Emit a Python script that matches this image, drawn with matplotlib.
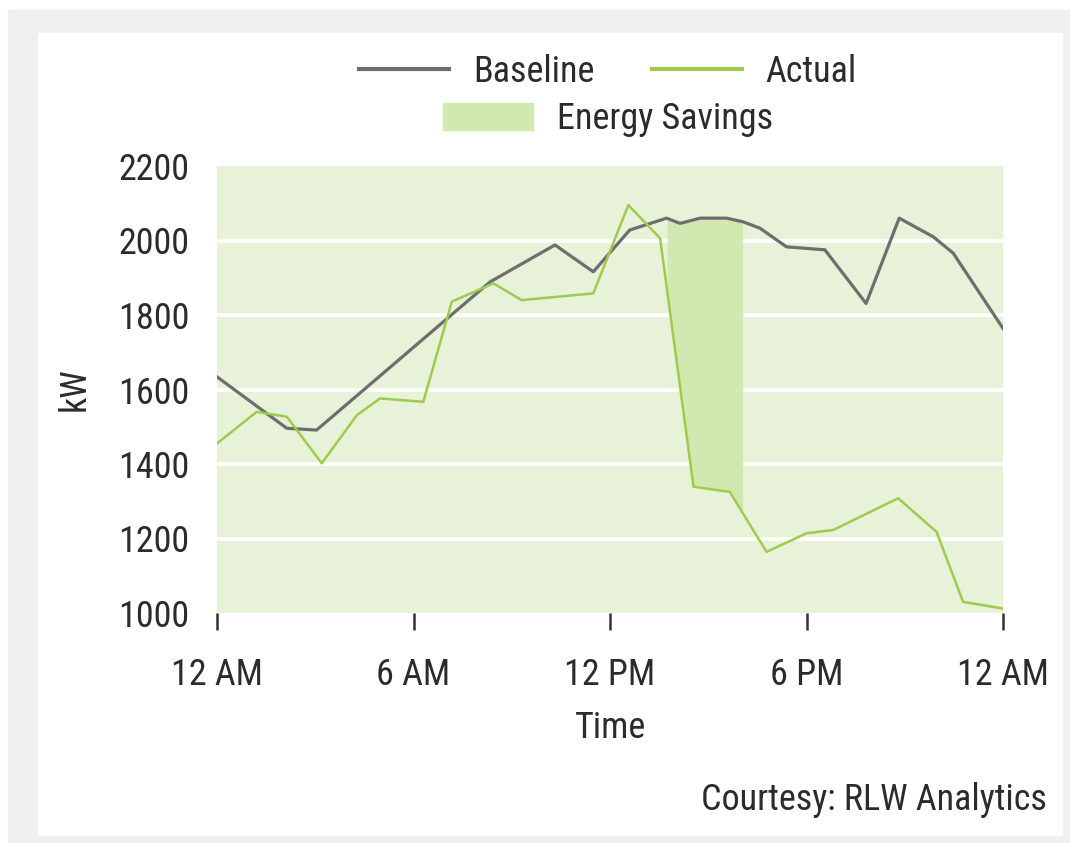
import matplotlib
matplotlib.use("Agg")
import matplotlib.pyplot as plt
from matplotlib.patches import Rectangle, Patch
from matplotlib.lines import Line2D
import numpy as np

plt.rcParams['font.family'] = ['Roboto Condensed', 'Barlow Condensed', 'Sofia Sans Condensed', 'DejaVu Sans']

# hours since midnight, kW
base_hours = [0, 2.13, 3.04, 8.34, 10.32, 11.49, 12.6, 13.73, 14.14, 14.75, 15.56,
              16.07, 16.58, 17.39, 18.56, 19.82, 20.83, 21.87, 22.48, 24]
base_kw = [1634, 1496, 1491, 1889, 1988, 1916, 2028, 2060, 2046, 2060, 2060,
           2050, 2033, 1983, 1975, 1831, 2060, 2010, 1966, 1764]

act_hours = [0, 1.21, 2.13, 3.2, 4.27, 4.98, 6.3, 7.17, 8.44, 9.3, 11.49, 12.56,
             13.53, 14.55, 15.66, 16.78, 18.0, 18.82, 20.8, 21.97, 22.78, 24]
act_kw = [1455, 1540, 1527, 1402, 1531, 1576, 1567, 1836, 1885, 1840, 1858, 2095,
          2006, 1339, 1325, 1164, 1214, 1223, 1308, 1218, 1030, 1012]

event_start, event_end = 13.74, 16.05

xtick_pos = [0, 6, 12, 18, 24]
xtick_lab = ['12 AM', '6 AM', '12 PM', '6 PM', '12 AM']
ytick_pos = [1000, 1200, 1400, 1600, 1800, 2000, 2200]

txt = '#2b2b2b'
gray = '#6e6e6e'
green = '#9dcc4c'
bg = '#e8f2d9'
fillc = '#d1e8b1'
fs = 26

fig = plt.figure(figsize=(10.7, 8.43), dpi=100)
fig.patches.append(Rectangle((8/1070, 0), 1 - 8/1070, 1 - 10/843, transform=fig.transFigure,
                             color='#efefef', zorder=-10))
fig.patches.append(Rectangle((38/1070, 8/843), (1062-38)/1070, (835-33)/843,
                             transform=fig.transFigure, color='white', zorder=-9))

ax = fig.add_axes([217/1070, 1 - 613/843, 786/1070, 447/843])
ax.set_facecolor(bg)
ax.set_xlim(0, 24)
ax.set_ylim(1000, 2200)

for y in ytick_pos[1:-1]:
    ax.axhline(y, color='white', lw=2.8, zorder=1)

xs = np.linspace(event_start, event_end, 200)
ax.fill_between(xs, np.interp(xs, act_hours, act_kw), np.interp(xs, base_hours, base_kw),
                color=fillc, lw=0, zorder=2)

ax.plot(base_hours, base_kw, color=gray, lw=2.3, zorder=3)
ax.plot(act_hours, act_kw, color=green, lw=1.8, zorder=4)

for s in ax.spines.values():
    s.set_visible(False)
ax.set_xticks(xtick_pos)
ax.set_xticklabels(xtick_lab)
ax.set_yticks(ytick_pos)
ax.tick_params(axis='x', direction='out', length=12, width=1.8, color='#333333',
               labelsize=fs, labelcolor=txt, pad=20)
ax.tick_params(axis='y', length=0, labelsize=fs, labelcolor=txt, pad=20)
ax.set_xlabel('Time', fontsize=fs, color=txt, labelpad=12)
ax.set_ylabel('kW', fontsize=fs, color=txt, labelpad=18)

h1 = [Line2D([], [], color=gray, lw=3), Line2D([], [], color=green, lw=3)]
fig.legend(h1, ['Baseline', 'Actual'], loc='center', bbox_to_anchor=(608/1070, 1 - 72/843),
           ncol=2, frameon=False, fontsize=fs, handlelength=2.5, handletextpad=0.65,
           columnspacing=1.6, labelcolor=txt)
fig.legend([Patch(color=fillc)], ['Energy Savings'], loc='center',
           bbox_to_anchor=(608/1070, 1 - 119/843), frameon=False, fontsize=fs,
           handlelength=2.5, handleheight=0.75, handletextpad=0.65, labelcolor=txt)

fig.text(1047/1070, 1 - 800/843, 'Courtesy: RLW Analytics', ha='right', va='center',
         fontsize=fs, color=txt)

fig.savefig('out.png', dpi=100)
